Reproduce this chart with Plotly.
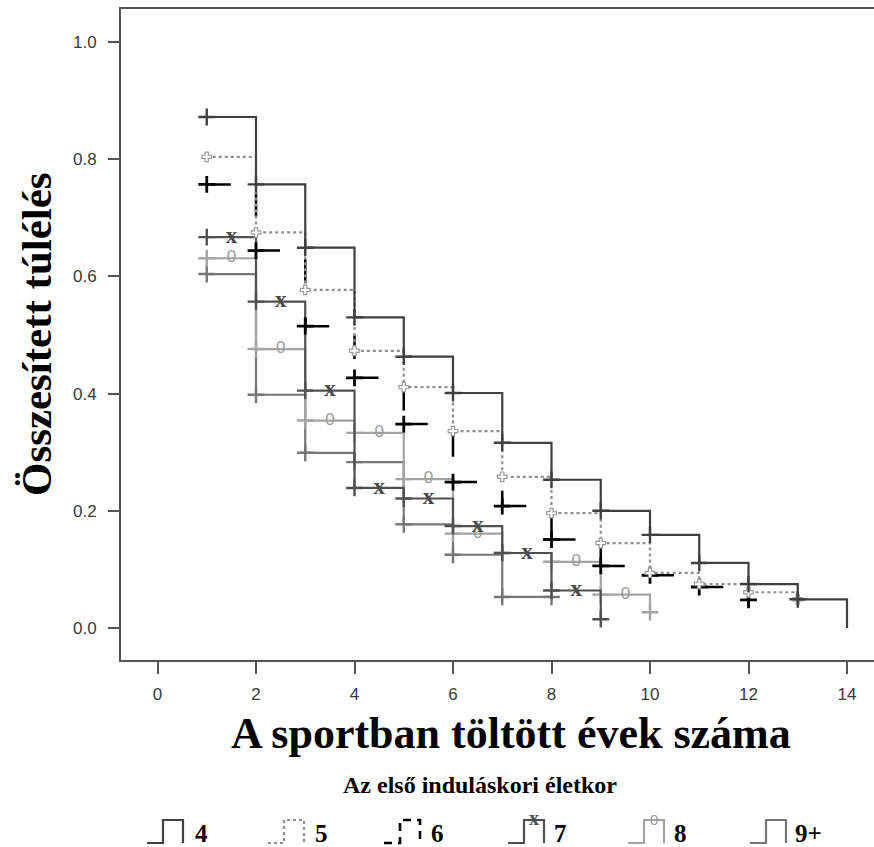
import plotly.graph_objects as go

# Kaplan-Meier style cumulative survival by age at first competition
groups = ["4", "5", "6", "7", "8", "9+"]

times_4 = [1, 2, 3, 4, 5, 6, 7, 8, 9, 10, 11, 12, 13, 14]
surv_4 = [0.872, 0.757, 0.649, 0.530, 0.463, 0.401, 0.316, 0.253, 0.200, 0.159, 0.111, 0.075, 0.049, 0.0]

times_5 = [1, 2, 3, 4, 5, 6, 7, 8, 9, 10, 11, 12, 13]
surv_5 = [0.804, 0.675, 0.577, 0.473, 0.411, 0.336, 0.258, 0.196, 0.145, 0.094, 0.075, 0.061, 0.049]

times_6 = [1, 2, 3, 4, 5, 6, 7, 8, 9, 10, 11, 12]
surv_6 = [0.757, 0.644, 0.515, 0.427, 0.348, 0.249, 0.208, 0.151, 0.106, 0.090, 0.070, 0.048]

times_7 = [1, 2, 3, 4, 5, 6, 7, 8, 9]
surv_7 = [0.667, 0.557, 0.405, 0.239, 0.221, 0.174, 0.128, 0.064, 0.015]

times_8 = [1, 2, 3, 4, 5, 6, 7, 8, 9, 10]
surv_8 = [0.631, 0.476, 0.354, 0.333, 0.254, 0.161, 0.128, 0.113, 0.057, 0.027]

times_9 = [1, 2, 3, 4, 5, 6, 7, 8]
surv_9 = [0.604, 0.398, 0.299, 0.283, 0.177, 0.125, 0.053, 0.053]

x_ticks = [0, 2, 4, 6, 8, 10, 12, 14]
y_ticks = [0.0, 0.2, 0.4, 0.6, 0.8, 1.0]

x_title = "A sportban töltött évek száma"
y_title = "Összesített túlélés"
legend_title = "Az első induláskori életkor"

COL = {"4": "#404040", "5": "#8e8e8e", "6": "#000000",
       "7": "#505050", "8": "#a4a4a4", "9+": "#767676"}

# plot area in pixels
W, H = 874, 847
L, R, T, B = 121, 0, 9, 187
PW, PH = W - L - R, H - T - B


def px_x(px):
    return (px - L) / PW


def px_y(py):
    return (H - B - py) / PH


fig = go.Figure()


def step_line(times, surv, color, dash="solid", width=2.2):
    fig.add_trace(go.Scatter(x=times, y=surv, mode="lines", line_shape="hv",
                             line=dict(color=color, width=width, dash=dash),
                             showlegend=False, hoverinfo="skip"))


def step_segments(times, surv, color, dash, width=2.5):
    # each interval drawn as its own L-shaped piece so the dash restarts
    xs, ys = [], []
    for i in range(len(times) - 1):
        xs += [times[i], times[i + 1], times[i + 1], None]
        ys += [surv[i], surv[i], surv[i + 1], None]
    fig.add_trace(go.Scatter(x=xs, y=ys, mode="lines",
                             line=dict(color=color, width=width, dash=dash),
                             showlegend=False, hoverinfo="skip"))


def censor_marks(times, surv, color, symbol="cross-thin", size=12, lw=2.4, fill=None):
    pts = [(t, s) for t, s in zip(times, surv) if s > 0]
    fig.add_trace(go.Scatter(x=[p[0] for p in pts], y=[p[1] for p in pts], mode="markers",
                             marker=dict(symbol=symbol, size=size,
                                         color=fill if fill else color,
                                         line=dict(color=color, width=lw)),
                             showlegend=False, hoverinfo="skip"))


def mid_symbols(times, surv, char, color, family, size, weight="normal", skip=None):
    xs, ys = [], []
    for i in range(len(times) - 1):
        xm = (times[i] + times[i + 1]) / 2
        if skip and any(abs(xm - a) < 1e-9 and abs(surv[i] - b) < 0.005 for a, b in skip):
            continue  # hidden under another group's symbol
        xs.append(xm)
        ys.append(surv[i])
    fig.add_trace(go.Scatter(x=xs, y=ys, mode="text", text=[char] * len(xs),
                             textposition="middle center",
                             textfont=dict(family=family, size=size, color=color, weight=weight),
                             showlegend=False, hoverinfo="skip"))
    return list(zip(xs, ys))


sym7 = [((times_7[i] + times_7[i + 1]) / 2, surv_7[i]) for i in range(len(times_7) - 1)]

# 9+
step_line(times_9, surv_9, COL["9+"])
censor_marks(times_9, surv_9, COL["9+"])
# 8
step_line(times_8, surv_8, COL["8"])
censor_marks(times_8, surv_8, COL["8"])
mid_symbols(times_8, surv_8, "0", "#9a9a9a", "Liberation Sans", 17, skip=sym7)
# 7
step_line(times_7, surv_7, COL["7"])
censor_marks(times_7, surv_7, COL["7"])
mid_symbols(times_7, surv_7, "x", "#4a4a4a", "Liberation Serif", 23, "bold")
# 6
step_segments(times_6, surv_6, COL["6"], "24px,34px")
censor_marks(times_6, surv_6, COL["6"], lw=2.8)
# 5
step_line(times_5, surv_5, COL["5"], dash="3px,3px", width=2.2)
censor_marks(times_5, surv_5, "#9a9a9a", symbol="cross", size=8, lw=1.2, fill="white")
# 4
step_line(times_4, surv_4, COL["4"])
censor_marks(times_4, surv_4, COL["4"])

axis_font = dict(family="Liberation Sans", size=17, color="#3a3a3a")

fig.update_xaxes(range=[(L - 157.5) / 49.25, (W - 157.5) / 49.25],
                 tickvals=x_ticks, ticktext=[str(v) for v in x_ticks],
                 showgrid=False, zeroline=False, showline=True, linecolor="#555555",
                 linewidth=2, mirror=True, ticks="outside", ticklen=12, tickwidth=2,
                 tickcolor="#555555", tickfont=axis_font, ticklabelstandoff=6)
fig.update_yaxes(range=[(628 - (H - B)) / 586, (628 - T) / 586],
                 tickvals=y_ticks, ticktext=[f"{v:.1f}" for v in y_ticks],
                 showgrid=False, zeroline=False, showline=True, linecolor="#555555",
                 linewidth=2, ticks="outside", ticklen=11, tickwidth=2,
                 tickcolor="#555555", tickfont=axis_font, ticklabelstandoff=8)

serif_bold = dict(family="Liberation Serif", color="#000000", weight="bold")

annotations = [
    dict(x=px_x(511), y=px_y(733), xref="paper", yref="paper", text=x_title,
         showarrow=False, xanchor="center", yanchor="middle",
         font=dict(size=44, **serif_bold)),
    dict(x=px_x(36), y=px_y(334), xref="paper", yref="paper", text=y_title,
         showarrow=False, xanchor="center", yanchor="middle", textangle=-90,
         font=dict(size=43, **serif_bold)),
    dict(x=px_x(480), y=px_y(785), xref="paper", yref="paper", text=legend_title,
         showarrow=False, xanchor="center", yanchor="middle",
         font=dict(size=24, **serif_bold)),
]

# legend: step glyph + label per group
icon_x0 = [147, 268, 384, 508, 628, 750]
label_x = [193, 313, 429, 552, 672, 793]
icon_top, icon_bot = 820, 843
shapes = []
for g, x0, lx in zip(groups, icon_x0, label_x):
    pts = [(x0, icon_bot), (x0 + 16, icon_bot), (x0 + 16, icon_top),
           (x0 + 36, icon_top), (x0 + 36, icon_bot)]
    path = "M " + " L ".join(f"{px_x(a):.5f},{px_y(b):.5f}" for a, b in pts)
    dash = {"5": "3px,3px", "6": "8px,6px"}.get(g, "solid")
    shapes.append(dict(type="path", path=path, xref="paper", yref="paper",
                       line=dict(color=COL[g], width=2.2 if g != "6" else 2.6, dash=dash)))
    annotations.append(dict(x=px_x(lx), y=px_y(833), xref="paper", yref="paper", text=g,
                            showarrow=False, xanchor="left", yanchor="middle",
                            font=dict(size=25, **serif_bold)))
    if g == "7":
        annotations.append(dict(x=px_x(x0 + 26), y=px_y(818), xref="paper", yref="paper",
                                text="x", showarrow=False, xanchor="center", yanchor="middle",
                                font=dict(family="Liberation Serif", size=20, weight="bold",
                                          color=COL[g])))
    if g == "8":
        annotations.append(dict(x=px_x(x0 + 26), y=px_y(819), xref="paper", yref="paper",
                                text="0", showarrow=False, xanchor="center", yanchor="middle",
                                font=dict(family="Liberation Sans", size=15, color="#9a9a9a")))

fig.update_layout(width=W, height=H, margin=dict(l=L, r=R, t=T, b=B),
                  plot_bgcolor="white", paper_bgcolor="white",
                  showlegend=False, annotations=annotations, shapes=shapes)

fig.write_html("out.html")
